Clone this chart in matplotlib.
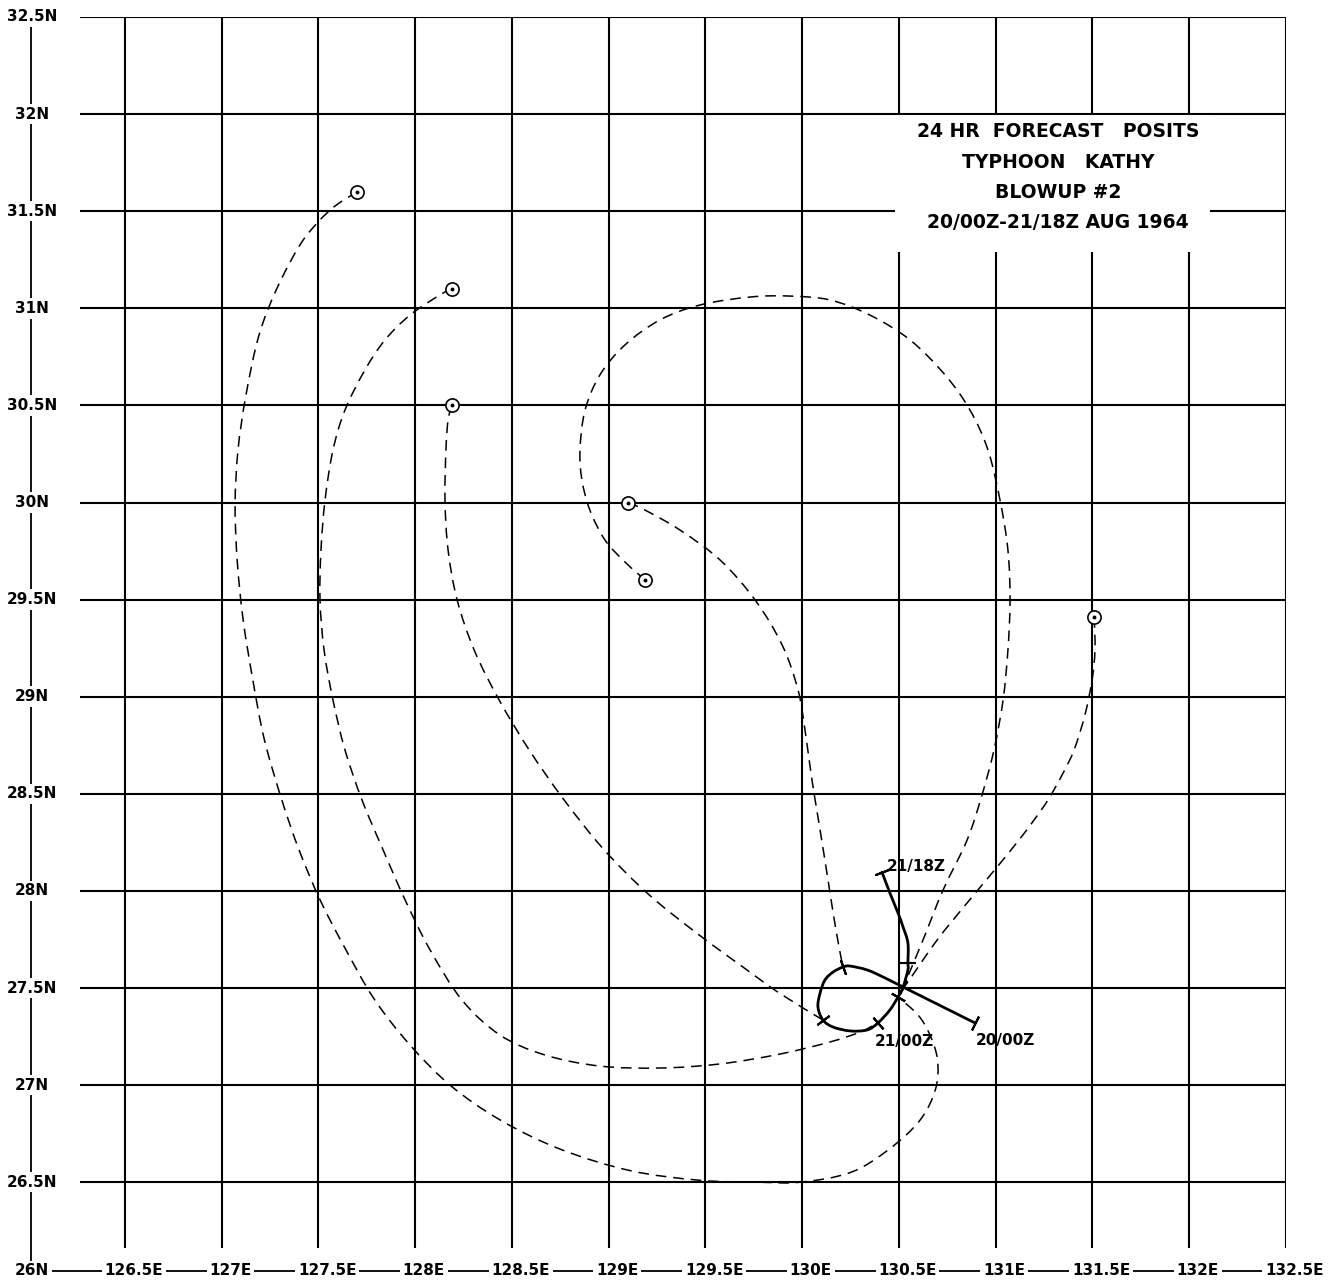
import numpy as np
import matplotlib
matplotlib.use('Agg')
import matplotlib.pyplot as plt
from matplotlib.patches import Rectangle, PathPatch
from matplotlib.path import Path

plt.rcParams['font.family'] = ['DejaVu Sans']

# grid / axis labels
lat_ticks = [26.5, 27, 27.5, 28, 28.5, 29, 29.5, 30, 30.5, 31, 31.5, 32, 32.5]
lon_ticks = [126.5, 127, 127.5, 128, 128.5, 129, 129.5, 130, 130.5, 131, 131.5, 132, 132.5]
lat_labels = ['26.5N', '27N', '27.5N', '28N', '28.5N', '29N', '29.5N', '30N',
              '30.5N', '31N', '31.5N', '32N', '32.5N']
lon_labels = ['126.5E', '127E', '127.5E', '128E', '128.5E', '129E', '129.5E',
              '130E', '130.5E', '131E', '131.5E', '132E', '132.5E']

# best track (solid), 20/00Z -> 21/18Z
track_lon = [130.894, 130.522, 130.418, 130.336, 130.248, 130.211, 130.160, 130.118,
             130.093, 130.082, 130.108, 130.160, 130.248, 130.336, 130.392, 130.454,
             130.496, 130.522, 130.547, 130.547, 130.547, 130.522, 130.496, 130.454, 130.413]
track_lat = [27.320, 27.505, 27.557, 27.593, 27.613, 27.608, 27.582, 27.541,
             27.474, 27.402, 27.335, 27.299, 27.279, 27.284, 27.320, 27.387,
             27.454, 27.505, 27.593, 27.629, 27.732, 27.814, 27.886, 27.989, 28.097]
fix_idx = [0, 1, 5, 10, 14, 16, 19, 24]   # 6-hourly positions along the track

# 24 hr forecast posits (circles)
fc_lon = [127.70, 128.19, 128.19, 129.10, 129.19, 131.51]
fc_lat = [31.60, 31.10, 30.50, 30.00, 29.60, 29.41]

# dashed curves from forecast posit to track position
c1_lon = [127.70, 127.586, 127.498, 127.404, 127.285, 127.192, 127.125, 127.084, 127.069,
          127.08, 127.11, 127.16, 127.22, 127.31, 127.40, 127.51, 127.64, 127.79, 127.97,
          128.18, 128.44, 128.75, 129.11, 129.47, 129.78, 129.99, 130.25, 130.45, 130.61,
          130.69, 130.70, 130.66, 130.60, 130.496]
c1_lat = [31.60, 31.527, 31.444, 31.326, 31.102, 30.860, 30.552, 30.270, 29.987,
          29.70, 29.40, 29.09, 28.78, 28.47, 28.21, 27.95, 27.70, 27.44, 27.21,
          27.00, 26.82, 26.67, 26.56, 26.51, 26.50, 26.50, 26.55, 26.67, 26.82,
          26.98, 27.13, 27.26, 27.36, 27.454]

c2_lon = [128.19, 128.128, 127.973, 127.844, 127.740, 127.637, 127.575, 127.534, 127.513,
          127.508, 127.529, 127.575, 127.637, 127.725, 127.834, 127.948, 128.077, 128.242,
          128.438, 128.671, 128.955, 129.266, 129.576, 129.886, 130.144, 130.299, 130.392]
c2_lat = [31.10, 31.069, 30.965, 30.837, 30.682, 30.476, 30.270, 30.013, 29.755,
          29.498, 29.240, 28.983, 28.726, 28.468, 28.211, 27.953, 27.696, 27.438,
          27.258, 27.155, 27.098, 27.088, 27.109, 27.160, 27.222, 27.273, 27.320]

c3_lon = [128.19, 128.170, 128.159, 128.154, 128.170, 128.217, 128.305, 128.434, 128.589,
          128.770, 128.977, 129.210, 129.468, 129.701, 129.882, 130.108]
c3_lat = [30.50, 30.425, 30.270, 30.013, 29.755, 29.498, 29.240, 28.983, 28.726,
          28.468, 28.211, 27.979, 27.773, 27.603, 27.474, 27.335]

c4_lon = [129.10, 129.188, 129.369, 129.576, 129.757, 129.897, 129.979, 130.015, 130.051,
          130.093, 130.134, 130.175, 130.211]
c4_lat = [30.00, 29.961, 29.858, 29.704, 29.498, 29.266, 29.035, 28.829, 28.571,
          28.314, 28.056, 27.799, 27.608]

c5_lon = [129.19, 129.084, 128.981, 128.903, 128.862, 128.852, 128.878, 128.955, 129.084,
          129.265, 129.472, 129.731, 129.937, 130.144, 130.351, 130.558, 130.739, 130.868,
          130.961, 131.023, 131.064, 131.075, 131.064, 131.039, 130.992, 130.930, 130.853,
          130.729, 130.625, 130.532, 130.522]
c5_lat = [29.60, 29.694, 29.807, 29.961, 30.116, 30.270, 30.476, 30.657, 30.811,
          30.940, 31.017, 31.058, 31.063, 31.043, 30.965, 30.837, 30.657, 30.476,
          30.270, 30.013, 29.755, 29.498, 29.240, 28.983, 28.726, 28.494, 28.262,
          28.005, 27.747, 27.526, 27.505]

c6_lon = [131.51, 131.514, 131.499, 131.462, 131.406, 131.344, 131.271, 131.199, 131.121,
          131.008, 130.853, 130.698, 130.543, 130.522]
c6_lat = [29.41, 29.240, 29.086, 28.906, 28.726, 28.597, 28.468, 28.365, 28.262,
          28.123, 27.938, 27.747, 27.526, 27.505]

curves = [(c1_lon, c1_lat), (c2_lon, c2_lat), (c3_lon, c3_lat),
          (c4_lon, c4_lat), (c5_lon, c5_lat), (c6_lon, c6_lat)]

time_labels = ['20/00Z', '21/00Z', '21/18Z']
time_lon = [131.049, 130.527, 130.589]
time_lat = [27.232, 27.222, 28.128]

title_lines = ['24 HR  FORECAST   POSITS', 'TYPHOON   KATHY', 'BLOWUP #2',
               '20/00Z-21/18Z AUG 1964']


def smooth_path(lon, lat):
    # cubic bezier through the read points (catmull-rom tangents)
    p = np.column_stack([lon, lat])
    n = len(p)
    verts = [p[0]]
    codes = [Path.MOVETO]
    for i in range(n - 1):
        p0 = p[i - 1] if i > 0 else p[i]
        p3 = p[i + 2] if i + 2 < n else p[i + 1]
        verts += [p[i] + (p[i + 1] - p0) / 6, p[i + 1] - (p3 - p[i]) / 6, p[i + 1]]
        codes += [Path.CURVE4] * 3
    return Path(verts, codes)


fig = plt.figure(figsize=(13.37, 12.83), dpi=100)
ax = fig.add_axes([0.02117, 0.00288, 0.94047, 0.98387])
ax.set_xlim(126, 132.5)
ax.set_ylim(26, 32.5)
ax.axis('off')

# grid
ax.hlines(lat_ticks, 126.267, 132.5, color='black', lw=1.5, zorder=1)
ax.vlines(lon_ticks, 26.161, 32.5, color='black', lw=1.5, zorder=1)

# left and bottom label lines
ax.plot([126.015, 126.015], [26.043, 32.5], color='black', lw=1.3, zorder=1, clip_on=False)
ax.plot([126.015, 132.5], [26.043, 26.043], color='black', lw=1.3, zorder=1, clip_on=False)

lab_kw = dict(fontsize=11, fontweight='bold', color='black', ha='center', va='center',
              clip_on=False, zorder=5,
              bbox=dict(facecolor='white', edgecolor='none', pad=2))
for v, s in zip(lat_ticks, lat_labels):
    ax.text(126.02, v, s, **lab_kw)
ax.text(126.02, 26.043, '26N', **lab_kw)
for u, s in zip(lon_ticks, lon_labels):
    ax.text(u + 0.045, 26.043, s, **lab_kw)

# title block
ax.add_patch(Rectangle((130.48, 31.29), 132.11 - 130.48, 31.995 - 31.29,
                       facecolor='white', edgecolor='none', zorder=2))
for i, line in enumerate(title_lines):
    ax.text(131.323, 31.908 - i * 0.155, line, fontsize=13.5, fontweight='bold',
            ha='center', va='center', zorder=6)

# dashed forecast curves
for lon, lat in curves:
    ax.add_patch(PathPatch(smooth_path(lon, lat), fill=False, edgecolor='black',
                           lw=1.1, linestyle=(0, (7, 4.5)), zorder=3))

# forecast posits
ax.plot(fc_lon, fc_lat, linestyle='none', marker='o', markersize=9.5,
        markerfacecolor='white', markeredgecolor='black', markeredgewidth=1.2, zorder=4)
ax.plot(fc_lon, fc_lat, linestyle='none', marker='o', markersize=1.8,
        color='black', zorder=5)

# best track
ax.add_patch(PathPatch(smooth_path(track_lon, track_lat), fill=False, edgecolor='black',
                       lw=2.0, joinstyle='round', capstyle='round', zorder=4))

# 6-hourly ticks perpendicular to the track
pts = ax.transData.transform(np.column_stack([track_lon, track_lat]))
for i in fix_idx:
    a = pts[max(i - 1, 0)]
    b = pts[min(i + 1, len(pts) - 1)]
    ang = np.degrees(np.arctan2(b[1] - a[1], b[0] - a[0]))
    ax.plot(track_lon[i], track_lat[i], marker=(2, 2, ang), markersize=11,
            markeredgewidth=1.5, color='black', zorder=5)

for s, x, y in zip(time_labels, time_lon, time_lat):
    ax.text(x, y, s, fontsize=11, fontweight='bold', ha='center', va='center', zorder=6)

fig.savefig('out.png', dpi=100)
